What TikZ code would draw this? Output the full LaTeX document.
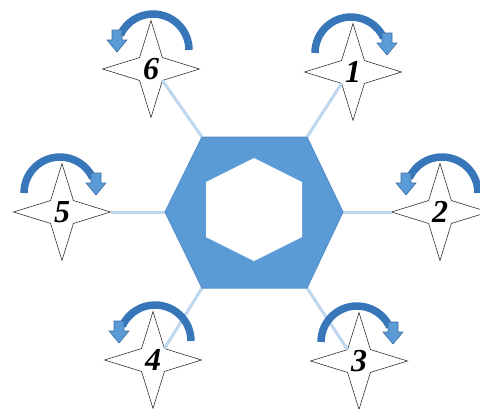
\documentclass[tikz,border=0pt]{standalone}
\usepackage{fontspec}
\setmainfont{Liberation Serif}
\usetikzlibrary{shapes.geometric}
\definecolor{hexblue}{HTML}{5B9BD5}
\definecolor{hexedge}{HTML}{5590CC}
\definecolor{connblue}{HTML}{BDD7EE}
\definecolor{arcblue}{HTML}{3876BA}
\definecolor{arredge}{HTML}{3A6EA5}
\tikzset{
  starbox/.style={star, star points=4, star point ratio=3, minimum size=97pt,
    draw=black!80, fill=white, inner sep=0pt, outer sep=0pt, line width=0.6pt},
  numlbl/.style={font=\fontsize{32}{32}\selectfont\bfseries\itshape, inner sep=0pt},
  conn/.style={draw=connblue, line width=3pt},
  rotarc/.style={draw=arcblue, line width=7.5pt},
  blockarrow/.style={fill=hexblue, draw=arredge, line width=0.6pt, line join=miter},
  rotR/.pic={
    \draw[rotarc] (-38,-19) arc[start angle=180, end angle=25, radius=36pt];
    \draw[blockarrow] (29,-39) -- (39,-39) -- (39,-29) -- (44,-29) -- (34,-17) -- (24,-29) -- (29,-29) -- cycle;
  },
  rotL/.pic={
    \draw[rotarc] (38,-19) arc[start angle=0, end angle=155, radius=36pt];
    \draw[blockarrow] (-29,-39) -- (-39,-39) -- (-39,-29) -- (-44,-29) -- (-34,-17) -- (-24,-29) -- (-29,-29) -- cycle;
  }
}
\begin{document}
\begin{tikzpicture}[x=1pt,y=-1pt]
\useasboundingbox (0,0) rectangle (480,408);
\clip (0,0) rectangle (480,408);
% stars
\node[starbox] (s1) at (353,72) {};
\node[starbox] (s2) at (440,212) {};
\node[starbox] (s3) at (359,361) {};
\node[starbox] (s4) at (153,360) {};
\node[starbox] (s5) at (62,212) {};
\node[starbox] (s6) at (151,69) {};
% hexagon vertices
\coordinate (h1) at (202,137);
\coordinate (h2) at (307,137);
\coordinate (h3) at (343,212);
\coordinate (h4) at (307,288);
\coordinate (h5) at (202,288);
\coordinate (h6) at (165,212);
% connectors
\draw[conn] (s6.inner point 3) -- (h1);
\draw[conn] (s1.inner point 2) -- (h2);
\draw[conn] (s2.outer point 2) -- (h3);
\draw[conn] (s3.inner point 1) -- (h4);
\draw[conn] (s4.inner point 4) -- (h5);
\draw[conn] (s5.outer point 4) -- (h6);
% hexagon
\draw[fill=hexblue, draw=hexedge, line width=1pt] (h1) -- (h2) -- (h3) -- (h4) -- (h5) -- (h6) -- cycle;
\fill[white] (254,158) -- (302,182) -- (302,237) -- (254,261) -- (206,237) -- (206,182) -- cycle;
% labels
\node[numlbl] (l1) at (s1.center) {1};
\node[numlbl] (l2) at (s2.center) {2};
\node[numlbl] (l3) at (s3.center) {3};
\node[numlbl] (l4) at (s4.center) {4};
\node[numlbl] (l5) at (s5.center) {5};
\node[numlbl] (l6) at (s6.center) {6};
% rotation arrows
\pic at (s1.center) {rotR};
\pic at (s2.center) {rotL};
\pic at (s3.center) {rotR};
\pic at (s4.center) {rotL};
\pic at (s5.center) {rotR};
\pic at (s6.center) {rotL};
\end{tikzpicture}
\end{document}
